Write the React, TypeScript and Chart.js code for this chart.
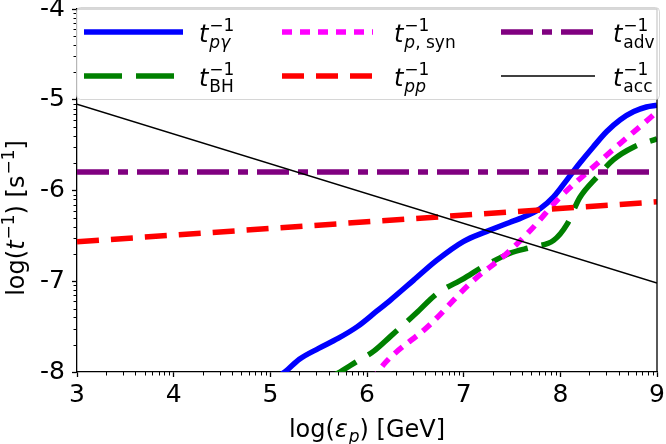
import React, { useEffect, useRef } from 'react';
import { Chart, registerables } from 'chart.js';

Chart.register(...registerables);

const FONT = '"DejaVu Sans", "Liberation Sans", sans-serif';

// axis ranges & ticks
const xRange = [3, 9];
const yRange = [-8, -4];
const minorSteps = [2, 3, 4, 5, 6, 7, 8, 9];

// t_pγ^-1
const pgX = [5.0, 5.15, 5.3, 5.5, 5.7, 5.9, 6.1, 6.24, 6.48, 6.72, 7.0, 7.24, 7.48, 7.58, 7.79, 7.93, 8.07, 8.2, 8.34, 8.48, 8.62, 8.76, 8.89, 9.0];
const pgY = [-8.1, -8.0, -7.86, -7.74, -7.63, -7.5, -7.33, -7.21, -6.99, -6.77, -6.56, -6.45, -6.35, -6.31, -6.2, -6.07, -5.88, -5.7, -5.52, -5.35, -5.22, -5.13, -5.08, -5.06];
// t_BH^-1
const bhX = [5.55, 5.72, 5.9, 6.07, 6.24, 6.51, 6.72, 7.0, 7.2, 7.38, 7.48, 7.72, 7.93, 8.07, 8.2, 8.38, 8.55, 8.76, 9.0];
const bhY = [-8.1, -8.0, -7.88, -7.77, -7.61, -7.35, -7.14, -6.97, -6.84, -6.74, -6.69, -6.62, -6.55, -6.37, -6.08, -5.85, -5.66, -5.52, -5.43];
// t_p,syn^-1
const synX = [6.05, 6.17, 6.65, 7.07, 7.45, 7.69, 8.0, 8.31, 8.62, 8.96, 9.0];
const synY = [-8.1, -7.92, -7.48, -7.02, -6.69, -6.44, -6.07, -5.77, -5.48, -5.17, -5.13];
// t_pp^-1
const ppX = [3, 9];
const ppY = [-6.565, -6.125];
// t_adv^-1
const advX = [3, 9];
const advY = [-5.795, -5.795];
// t_acc^-1
const accX = [3, 9];
const accY = [-5.05, -7.02];

// legend label subscripts (t^{-1}_{sub})
const legendSubs: { t: string; it: boolean }[][] = [
  [{ t: 'pγ', it: true }],
  [{ t: 'BH', it: false }],
  [{ t: 'p', it: true }, { t: ', syn', it: false }],
  [{ t: 'pp', it: true }],
  [{ t: 'adv', it: false }],
  [{ t: 'acc', it: false }],
];

const toPts = (xs: number[], ys: number[]) => xs.map((x, i) => ({ x, y: ys[i] }));

const fnt = (size: number, it: boolean) => `${it ? 'italic ' : ''}${size}px ${FONT}`;

type Seg = { t: string; it?: boolean };
type Piece = { base?: Seg[]; sup?: Seg[]; sub?: Seg[] };

function segsWidth(ctx: CanvasRenderingContext2D, segs: Seg[], size: number) {
  let w = 0;
  for (const s of segs) {
    ctx.font = fnt(size, !!s.it);
    w += ctx.measureText(s.t).width;
  }
  return w;
}

function drawSegs(ctx: CanvasRenderingContext2D, segs: Seg[], x: number, y: number, size: number) {
  let cx = x;
  for (const s of segs) {
    ctx.font = fnt(size, !!s.it);
    ctx.fillText(s.t, cx, y);
    cx += ctx.measureText(s.t).width;
  }
  return cx - x;
}

function mathWidth(ctx: CanvasRenderingContext2D, pieces: Piece[], F: number) {
  const S = Math.round(F * 0.7);
  let w = 0;
  for (const p of pieces) {
    if (p.base) w += segsWidth(ctx, p.base, F);
    else {
      const a = p.sup ? segsWidth(ctx, p.sup, S) : 0;
      const b = p.sub ? segsWidth(ctx, p.sub, S) : 0;
      w += Math.max(a, b) + F * 0.04;
    }
  }
  return w;
}

function drawMath(ctx: CanvasRenderingContext2D, pieces: Piece[], x: number, y: number, F: number) {
  const S = Math.round(F * 0.7);
  let cx = x;
  ctx.textBaseline = 'alphabetic';
  ctx.textAlign = 'left';
  for (const p of pieces) {
    if (p.base) cx += drawSegs(ctx, p.base, cx, y, F);
    else {
      const both = !!(p.sup && p.sub);
      const sx = cx + F * 0.04;
      let a = 0;
      let b = 0;
      if (p.sup) a = drawSegs(ctx, p.sup, sx, y - F * (both ? 0.46 : 0.42), S);
      if (p.sub) b = drawSegs(ctx, p.sub, sx, y + F * (both ? 0.27 : 0.2), S);
      cx = sx + Math.max(a, b);
    }
  }
  return cx - x;
}

const legendCols = [
  { x0: 84, x1: 183, tx: 199 },
  { x0: 282, x1: 373, tx: 394 },
  { x0: 501, x1: 595, tx: 613 },
];
const legendRows = [32, 76];

const decorPlugin = {
  id: 'decor',
  afterDraw(chart: any) {
    const ctx: CanvasRenderingContext2D = chart.ctx;
    const ca = chart.chartArea;
    const xs = chart.scales.x;
    const ys = chart.scales.y;
    ctx.save();
    ctx.strokeStyle = '#000';
    ctx.lineWidth = 1;
    ctx.setLineDash([]);
    // minor ticks
    for (let n = xRange[0]; n < xRange[1]; n++) {
      for (const k of minorSteps) {
        const px = Math.round(xs.getPixelForValue(n + Math.log10(k))) + 0.5;
        ctx.beginPath();
        ctx.moveTo(px, ca.bottom);
        ctx.lineTo(px, ca.bottom + 3.5);
        ctx.stroke();
      }
    }
    for (let n = yRange[0]; n < yRange[1]; n++) {
      for (const k of minorSteps) {
        const py = Math.round(ys.getPixelForValue(n + Math.log10(k))) + 0.5;
        ctx.beginPath();
        ctx.moveTo(ca.left - 3.5, py);
        ctx.lineTo(ca.left, py);
        ctx.stroke();
      }
    }
    // right and top spines
    ctx.lineWidth = 1.3;
    ctx.beginPath();
    ctx.moveTo(ca.right, ca.bottom);
    ctx.lineTo(ca.right, ca.top);
    ctx.lineTo(ca.left, ca.top);
    ctx.stroke();

    // legend box
    const bx = 76.5, by = 7.5, bw = 583, bh = 92, r = 4;
    ctx.beginPath();
    ctx.moveTo(bx + r, by);
    ctx.lineTo(bx + bw - r, by);
    ctx.quadraticCurveTo(bx + bw, by, bx + bw, by + r);
    ctx.lineTo(bx + bw, by + bh - r);
    ctx.quadraticCurveTo(bx + bw, by + bh, bx + bw - r, by + bh);
    ctx.lineTo(bx + r, by + bh);
    ctx.quadraticCurveTo(bx, by + bh, bx, by + bh - r);
    ctx.lineTo(bx, by + r);
    ctx.quadraticCurveTo(bx, by, bx + r, by);
    ctx.closePath();
    ctx.fillStyle = 'rgba(255,255,255,0.8)';
    ctx.fill();
    ctx.strokeStyle = 'rgba(204,204,204,0.8)';
    ctx.lineWidth = 1;
    ctx.stroke();

    const F = 24;
    chart.data.datasets.forEach((ds: any, i: number) => {
      const col = legendCols[Math.floor(i / 2)];
      const ry = legendRows[i % 2];
      ctx.save();
      ctx.strokeStyle = ds.borderColor;
      ctx.lineWidth = ds.borderWidth;
      ctx.setLineDash(ds.borderDash || []);
      ctx.lineCap = 'butt';
      ctx.beginPath();
      ctx.moveTo(col.x0, ry);
      ctx.lineTo(col.x1, ry);
      ctx.stroke();
      ctx.restore();
      ctx.fillStyle = '#000';
      drawMath(
        ctx,
        [
          { base: [{ t: 't', it: true }] },
          { sup: [{ t: '−1' }], sub: legendSubs[i] },
        ],
        col.tx,
        ry + 10,
        F
      );
    });

    // axis titles
    ctx.fillStyle = '#000';
    const TF = 24;
    const xTitle: Piece[] = [
      { base: [{ t: 'log(' }, { t: 'ε', it: true }] },
      { sub: [{ t: 'p', it: true }] },
      { base: [{ t: ') [GeV]' }] },
    ];
    const xw = mathWidth(ctx, xTitle, TF);
    drawMath(ctx, xTitle, (ca.left + ca.right) / 2 - xw / 2, 437, TF);

    const yTitle: Piece[] = [
      { base: [{ t: 'log(' }, { t: 't', it: true }] },
      { sup: [{ t: '−1' }] },
      { base: [{ t: ') [s' }] },
      { sup: [{ t: '−1' }] },
      { base: [{ t: ']' }] },
    ];
    const yw = mathWidth(ctx, yTitle, TF);
    ctx.save();
    ctx.translate(24, 218);
    ctx.rotate(-Math.PI / 2);
    drawMath(ctx, yTitle, -yw / 2, 0, TF);
    ctx.restore();

    ctx.restore();
  },
};

export default function App() {
  const ref = useRef<HTMLCanvasElement>(null);
  useEffect(() => {
    document.body.style.margin = '0';
    const canvas = ref.current!;
    const common = {
      pointRadius: 0,
      pointHoverRadius: 0,
      fill: false,
      clip: 0,
      borderCapStyle: 'butt' as const,
      borderJoinStyle: 'round' as const,
    };
    const chart = new Chart(canvas, {
      type: 'line',
      data: {
        datasets: [
          { ...common, label: 't_pγ^-1', data: toPts(pgX, pgY), borderColor: '#0000ff', borderWidth: 5.5, cubicInterpolationMode: 'monotone', order: 6 },
          { ...common, label: 't_BH^-1', data: toPts(bhX, bhY), borderColor: '#008000', borderWidth: 5.5, borderDash: [38, 14], cubicInterpolationMode: 'monotone', order: 5 },
          { ...common, label: 't_p,syn^-1', data: toPts(synX, synY), borderColor: '#ff00ff', borderWidth: 5.5, borderDash: [10, 8], cubicInterpolationMode: 'monotone', order: 4 },
          { ...common, label: 't_pp^-1', data: toPts(ppX, ppY), borderColor: '#ff0000', borderWidth: 5.5, borderDash: [22, 12], order: 3 },
          { ...common, label: 't_adv^-1', data: toPts(advX, advY), borderColor: '#800080', borderWidth: 5.5, borderDash: [32, 9, 10, 9], order: 2 },
          { ...common, label: 't_acc^-1', data: toPts(accX, accY), borderColor: '#000000', borderWidth: 1.5, order: 1 },
        ] as any,
      },
      options: {
        animation: false,
        responsive: false,
        devicePixelRatio: 1,
        layout: { padding: { left: 0, top: 9, right: 9, bottom: 0 } },
        plugins: { legend: { display: false }, tooltip: { enabled: false } },
        events: [],
        scales: {
          x: {
            type: 'linear',
            min: xRange[0],
            max: xRange[1],
            ticks: { stepSize: 1, color: '#000', padding: 3, font: { family: FONT, size: 25 }, maxRotation: 0 },
            grid: { display: true, drawOnChartArea: false, drawTicks: true, tickLength: 5, tickColor: '#000', tickWidth: 1.3 },
            border: { display: true, color: '#000', width: 1.3 },
            afterFit: (s: any) => {
              s.height = 72;
              s.paddingLeft = 0;
              s.paddingRight = 0;
            },
          },
          y: {
            type: 'linear',
            min: yRange[0],
            max: yRange[1],
            ticks: { stepSize: 1, color: '#000', padding: 7, font: { family: FONT, size: 25 } },
            grid: { display: true, drawOnChartArea: false, drawTicks: true, tickLength: 5, tickColor: '#000', tickWidth: 1.3 },
            border: { display: true, color: '#000', width: 1.3 },
            afterFit: (s: any) => {
              s.width = 77;
              s.paddingTop = 0;
              s.paddingBottom = 0;
            },
          },
        },
      } as any,
      plugins: [decorPlugin],
    });
    return () => chart.destroy();
  }, []);
  return (
    <div style={{ width: 666, height: 444, position: 'relative', background: '#fff' }}>
      <canvas ref={ref} width={666} height={444} style={{ display: 'block' }} />
    </div>
  );
}
